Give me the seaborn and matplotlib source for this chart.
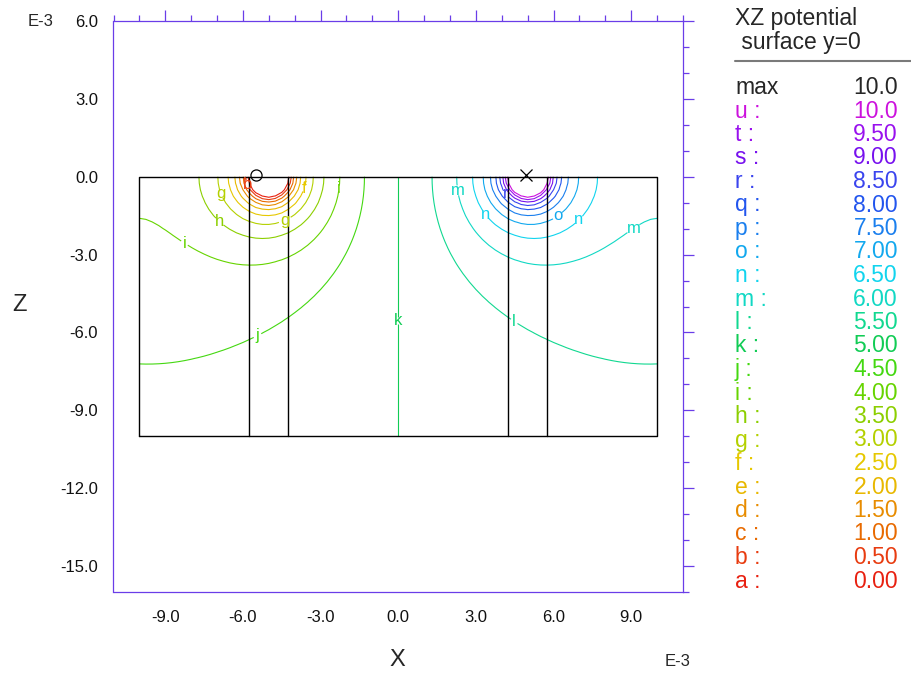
import numpy as np
import matplotlib
matplotlib.use("Agg")
import matplotlib.pyplot as plt
from matplotlib.lines import Line2D
from matplotlib.ticker import MultipleLocator, FormatStrFormatter
import seaborn as sns

# ---------------- data ----------------
level_letters = list("abcdefghijklmnopqrstu")
level_values = [0.0, 0.5, 1.0, 1.5, 2.0, 2.5, 3.0, 3.5, 4.0, 4.5, 5.0,
                5.5, 6.0, 6.5, 7.0, 7.5, 8.0, 8.5, 9.0, 9.5, 10.0]
level_colors = ["#e82010", "#e83c10", "#e86a00", "#e88c00", "#e8b800",
                "#e6c800", "#b4d000", "#8ccf00", "#66d400", "#44d811",
                "#11cc55", "#11d890", "#11d8c4", "#11d4ee", "#12a8ee",
                "#1a7fee", "#2255ee", "#3a44ee", "#7711ee", "#9911ee",
                "#cc11dd"]
max_value = 10.0

# electrodes (surface point sources), fitted strength
electrode_x = [-5.0, 5.0]
electrode_charge = [-1.0, 1.0]
electrode_strength = 4.1
base_potential = 5.0

domain_x = [-10.0, 10.0]
domain_z = [-10.0, 0.0]
boundary_x = [-5.75, -4.25, 4.25, 5.75]

marker_o_xy = (-5.5, 0.05)
marker_x_xy = (4.95, 0.05)

# in-plot contour labels: letter and approximate position
label_letter = ["b", "f", "g", "g", "h", "i", "i", "j", "k",
                "l", "m", "m", "n", "n", "o", "r"]
label_x = [-5.17, -3.9, -6.56, -4.83, -6.56, -2.47, -7.99, -5.48, -0.04,
           4.6, 2.43, 9.03, 3.59, 6.6, 5.71, 4.9]
label_z = [-0.21, -0.44, -0.63, -1.4, -1.64, -0.44, -2.45, -6.1, -5.53,
           -5.53, -0.52, -1.98, -1.41, -1.56, -1.33, -0.52]

# ---------------- field (point sources + Neumann wall images) ----------------
xs = np.arange(domain_x[0], domain_x[1] + 1e-6, 0.25)
zs = np.arange(domain_z[0], domain_z[1] + 1e-6, 0.25)
XX, ZZ = np.meshgrid(xs, zs)
VV = np.full_like(XX, base_potential)
xe0 = electrode_x[0]
img_x = []
for k in range(-4, 5):
    img_x += [xe0 + 40 * k, 20 - xe0 + 40 * k]
for q_sign, mirror in ((electrode_charge[0], 1.0), (electrode_charge[1], -1.0)):
    for xi0 in img_x:
        xi = mirror * xi0
        for m in range(-4, 5):
            zi = 20.0 * m
            r = np.sqrt((XX - xi) ** 2 + (ZZ - zi) ** 2)
            VV += electrode_strength * q_sign / np.maximum(r, 0.12)

# ---------------- style ----------------
sns.set_theme(style="white")
plt.rcParams["font.family"] = ["Liberation Sans", "DejaVu Sans"]
plt.rcParams["axes.unicode_minus"] = False

axis_color = "#6a3de8"

fig = plt.figure(figsize=(9.12, 6.73), dpi=100)
ax = fig.add_axes([113.5 / 912, 1 - 592 / 673, 569.5 / 912, 571 / 673])

for lv, lt, col in zip(level_values, level_letters, level_colors):
    cs = ax.contour(XX, ZZ, VV, levels=[lv], colors=[col], linewidths=0.8)
    pos = [(px, pz) for l2, px, pz in zip(label_letter, label_x, label_z)
           if l2 == lt]
    if pos:
        cs.clabel(fmt={lv: lt}, inline=True, inline_spacing=4, fontsize=12,
                  manual=pos)
        for t in cs.labelTexts:
            t.set_rotation(0)

# domain box and electrode boundary lines
ax.plot([domain_x[0], domain_x[1], domain_x[1], domain_x[0], domain_x[0]],
        [domain_z[0], domain_z[0], domain_z[1], domain_z[1], domain_z[0]],
        color="black", lw=1.0)
for bx in boundary_x:
    ax.plot([bx, bx], domain_z, color="black", lw=1.0)

ax.plot([marker_o_xy[0]], [marker_o_xy[1]], marker="o", mfc="none",
        mec="black", ms=8, mew=0.9, ls="none")
ax.plot([marker_x_xy[0]], [marker_x_xy[1]], marker="x", color="black",
        ms=8, mew=0.9, ls="none")

ax.set_xlim(-11, 11)
ax.set_ylim(-16, 6)
ax.xaxis.set_major_locator(MultipleLocator(3))
ax.xaxis.set_minor_locator(MultipleLocator(1))
ax.yaxis.set_major_locator(MultipleLocator(3))
ax.yaxis.set_minor_locator(MultipleLocator(1))
ax.xaxis.set_major_formatter(FormatStrFormatter("%.1f"))
ax.yaxis.set_major_formatter(FormatStrFormatter("%.1f"))
ax.tick_params(which="both", direction="out", top=True, right=True,
               labeltop=False, labelright=False, color=axis_color,
               width=0.9, labelsize=12, labelcolor="#111111")
ax.tick_params(which="major", length=8, pad=3)
ax.tick_params(axis="x", which="major", pad=5)
ax.tick_params(which="minor", length=4)
for sp in ax.spines.values():
    sp.set_color(axis_color)
    sp.set_linewidth(0.9)
ax.set_xlabel("")
ax.set_ylabel("")

# axis titles and exponents
fig.text(20 / 912, 1 - 305 / 673, "Z", fontsize=17, ha="center", va="center")
fig.text(397 / 912, 1 - 660 / 673, "X", fontsize=17, ha="center", va="center")
fig.text(28 / 912, 1 - 21 / 673, "E-3", fontsize=12, ha="left", va="center")
fig.text(665 / 912, 1 - 662 / 673, "E-3", fontsize=12, ha="left", va="center")

# right-hand level table
lx, rx = 735 / 912, 898 / 912
fs = 16.5
fig.text(lx, 1 - 18 / 673, "XZ potential", fontsize=fs, ha="left", va="center")
fig.text(lx, 1 - 43 / 673, " surface y=0", fontsize=fs, ha="left", va="center")
fig.add_artist(Line2D([lx, 1.0], [1 - 61 / 673, 1 - 61 / 673],
                      color="#7a7a7a", lw=1.5))
fig.text(lx, 1 - 88 / 673, "max", fontsize=fs, ha="left", va="center")
fig.text(rx, 1 - 88 / 673, f"{max_value:.1f}", fontsize=fs, ha="right",
         va="center")
for i, (lt, lv, col) in enumerate(zip(level_letters[::-1], level_values[::-1],
                                      level_colors[::-1])):
    y = 1 - (111 + i * 23.5) / 673
    txt = f"{lv:.1f}" if lv >= 10 else f"{lv:.2f}"
    fig.text(lx, y, f"{lt} :", fontsize=fs, color=col, ha="left", va="center")
    fig.text(rx, y, txt, fontsize=fs, color=col, ha="right", va="center")

fig.savefig("out.png", dpi=100)
